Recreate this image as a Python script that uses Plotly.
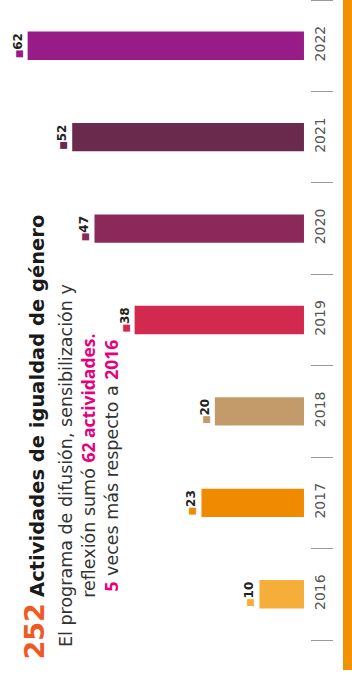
import plotly.graph_objects as go

# datos
anios = ['2016', '2017', '2018', '2019', '2020', '2021', '2022']
actividades = [10, 23, 20, 38, 47, 52, 62]
colores = ['#F6AE3A', '#F08A00', '#C39A69', '#D3294F', '#8B2A5A', '#6A2A4E', '#981C87']

total = '252'
titulo = 'Actividades de igualdad de género'

FUENTE = 'DejaVu Sans'
ROSA = '#E5007E'


def resalta(texto):
    """Texto en rosa y negritas (fuente más angosta)"""
    return (f"<span style='color:{ROSA};font-family:Open Sans;font-weight:bold'>"
            f"<b>{texto}</b></span>")


etiquetas = [
    f"<span style='color:{c};font-size:9px'>■</span><b>{v}</b>"
    for v, c in zip(actividades, colores)
]

fig = go.Figure(go.Bar(
    x=actividades,
    y=anios,
    orientation='h',
    marker=dict(color=colores, line=dict(width=0)),
    width=0.31,
    text=etiquetas,
    texttemplate='%{text}',
    textposition='outside',
    textangle=-90,
    constraintext='none',
    cliponaxis=False,
    textfont=dict(family=FUENTE, size=12, color='#222222'),
    hoverinfo='skip'
))

fig.update_layout(
    width=352,
    height=681,
    margin=dict(l=0, r=42, t=0, b=41, autoexpand=False),
    paper_bgcolor='white',
    plot_bgcolor='white',
    showlegend=False,
    font=dict(family=FUENTE, color='#333333'),
    xaxis=dict(
        visible=False,
        automargin=False,
        range=[68.2, -1.35],
    ),
    yaxis=dict(
        type='category',
        side='right',
        automargin=False,
        range=[-0.5, 6.5],
        showgrid=False,
        zeroline=False,
        showline=False,
        ticks='outside',
        tickson='boundaries',
        ticklen=22,
        tickwidth=1,
        tickcolor='#9a9a9a',
        tickangle=-90,
        ticklabelstandoff=0,
        tickfont=dict(family=FUENTE, size=14, color='#555555'),
    ),
)

# banda naranja a la derecha
fig.add_shape(
    type='rect', xref='paper', yref='paper',
    x0=343 / 310, x1=352 / 310, y0=-30 / 640, y1=1,
    fillcolor='#F39200', line=dict(width=0), layer='above'
)

# título
fig.add_annotation(
    xref='paper', yref='paper',
    x=34 / 310, y=-22 / 640,
    xanchor='center', yanchor='bottom',
    textangle=-90, showarrow=False,
    text=(f"<span style='color:#F05A22;font-size:27px'><b>{total}</b></span> "
          f"<b>{titulo}</b>"),
    font=dict(family=FUENTE, size=19.5, color='#1a1a1a'),
)

# subtítulo
fig.add_annotation(
    xref='paper', yref='paper',
    x=89 / 310, y=(640 - 466) / 640,
    xanchor='center', yanchor='middle',
    textangle=-90, showarrow=False, align='center',
    text=("El programa de difusión, sensibilización y<br>"
          f"reflexión sumó {resalta('62 actividades.')}<br>"
          f"{resalta('5')} veces más respecto a {resalta('2016')}"),
    font=dict(family=FUENTE, size=17.5, color='#333333'),
)

# sin margen del body para que la figura ocupe toda la ventana
fig.write_html('out.html', config={'displayModeBar': False},
               post_script="document.body.style.margin='0';")
